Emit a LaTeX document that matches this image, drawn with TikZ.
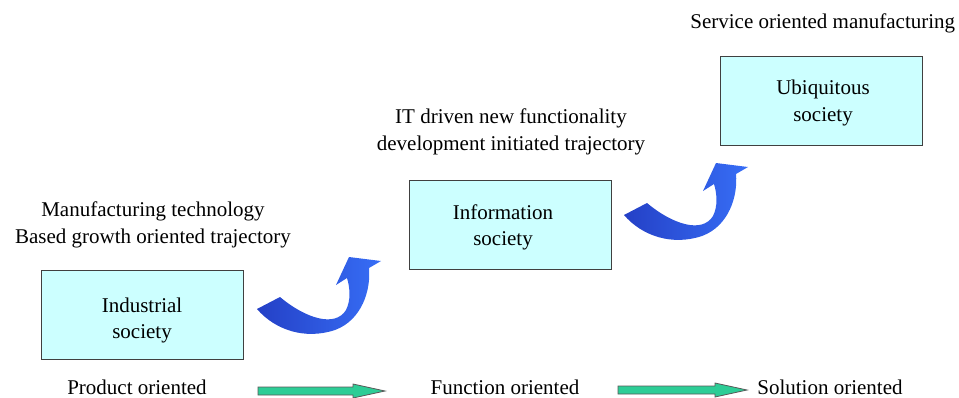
\documentclass[tikz,border=0pt]{standalone}
\usepackage{fontspec}
\setmainfont{Liberation Serif}
\usetikzlibrary{calc}

\definecolor{boxcyan}{RGB}{204,255,255}
\definecolor{flowgreen}{RGB}{45,205,150}
\definecolor{swooshdark}{RGB}{36,64,198}
\definecolor{swooshlight}{RGB}{55,110,246}

\tikzset{
  society/.style={draw=black!75, fill=boxcyan, line width=0.5pt,
    minimum width=101pt, minimum height=44.5pt, inner sep=0pt},
  note/.style={align=center},
  flowarrow/.style={draw=black!65, fill=flowgreen, line width=0.4pt},
  swoosh/.pic={
    \shade[left color=swooshdark, right color=swooshlight]
      (0,0) .. controls (25,21) and (55,31) .. (66,13)
      .. controls (71,3) and (70,-9) .. (67,-19)
      -- (56,-12) -- (69,-40) -- (101,-36) -- (89,-29)
      .. controls (91,-7) and (82,23) .. (55,33)
      .. controls (25,43) and (-5,33) .. (-23,12) -- cycle;
  }
}

% flat arrow from #1 to the tip #2
\newcommand{\flowarrow}[2]{%
  \draw[flowarrow] ($(#1)+(0,-4)$) -- ($(#2)+(-32,-4)$) -- ($(#2)+(-32,-7)$)
    -- (#2) -- ($(#2)+(-32,7)$) -- ($(#2)+(-32,4)$) -- ($(#1)+(0,4)$) -- cycle;}

\begin{document}
\begin{tikzpicture}[x=0.5pt,y=-0.5pt,font=\fontsize{10.5}{13.3}\selectfont]
\useasboundingbox (0,0) rectangle (959,397);

% SOCIETIES
\node[society] (industrial)  at (142,314.5) {};
\node[society] (information) at (510,224.5) {};
\node[society] (ubiquitous)  at (821,101)   {};

\node[note] (industrial-txt)  at ($(industrial)+(0,6)$)   {Industrial\\society};
\node[note] (information-txt) at ($(information)+(-7,3)$) {Information\\society};
\node[note] (ubiquitous-txt)  at ($(ubiquitous)+(2,2)$)   {Ubiquitous\\society};

% TRAJECTORIES
\node[note] (manuf)    at (153,225) {Manufacturing technology\\Based growth oriented trajectory};
\node[note] (itdriven) at (511,132) {IT driven new functionality\\development initiated trajectory};
\node[anchor=base west, inner sep=0pt] (service) at (690,28) {Service oriented manufacturing};

% CURVED ARROWS
\pic at (280,297) {swoosh};
\pic at (647,203) {swoosh};

% BOTTOM ROW
\node (product)  at (137,387) {Product oriented};
\node (function) at (505,387) {Function oriented};
\node (solution) at (830,387) {Solution oriented};

\coordinate (f1s) at (258,391);
\coordinate (f1e) at (385,391);
\coordinate (f2s) at (618,390);
\coordinate (f2e) at (747,390);
\flowarrow{f1s}{f1e}
\flowarrow{f2s}{f2e}

\end{tikzpicture}
\end{document}
